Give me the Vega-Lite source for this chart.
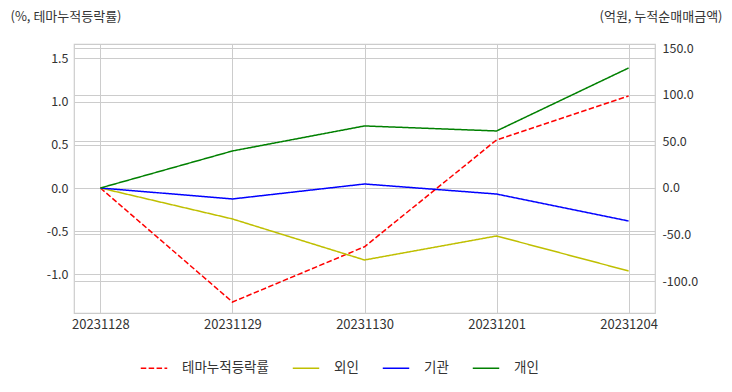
{
  "$schema": "https://vega.github.io/schema/vega-lite/v6.json",
  "width": 581,
  "height": 269,
  "autosize": {"type": "none"},
  "padding": {"left": 74, "top": 44, "right": 77, "bottom": 79},
  "background": "white",
  "config": {
    "font": "Noto Sans CJK KR",
    "view": {"stroke": "#cccccc", "strokeWidth": 1.2},
    "axis": {
      "labelFont": "Noto Sans CJK KR",
      "titleFont": "Noto Sans CJK KR",
      "labelColor": "#333333",
      "titleColor": "#333333",
      "labelFontSize": 12.5,
      "titleFontSize": 13,
      "titleFontWeight": "normal",
      "gridColor": "#cccccc",
      "gridWidth": 1,
      "domain": false,
      "ticks": false
    },
    "legend": {
      "labelFont": "Noto Sans CJK KR",
      "labelFontSize": 13.5,
      "labelColor": "#333333"
    }
  },
  "data": {
    "values": [
      {"date": "20231128", "series": "테마누적등락률", "value": 0},
      {"date": "20231129", "series": "테마누적등락률", "value": -1.32},
      {"date": "20231130", "series": "테마누적등락률", "value": -0.68},
      {"date": "20231201", "series": "테마누적등락률", "value": 0.556},
      {"date": "20231204", "series": "테마누적등락률", "value": 1.065},
      {"date": "20231128", "series": "외인", "value": 0},
      {"date": "20231129", "series": "외인", "value": -33.3},
      {"date": "20231130", "series": "외인", "value": -77.4},
      {"date": "20231201", "series": "외인", "value": -51.6},
      {"date": "20231204", "series": "외인", "value": -89.2},
      {"date": "20231128", "series": "기관", "value": 0},
      {"date": "20231129", "series": "기관", "value": -11.8},
      {"date": "20231130", "series": "기관", "value": 4.3},
      {"date": "20231201", "series": "기관", "value": -6.5},
      {"date": "20231204", "series": "기관", "value": -35.5},
      {"date": "20231128", "series": "개인", "value": 0},
      {"date": "20231129", "series": "개인", "value": 39.8},
      {"date": "20231130", "series": "개인", "value": 66.7},
      {"date": "20231201", "series": "개인", "value": 61.3},
      {"date": "20231204", "series": "개인", "value": 129}
    ]
  },
  "encoding": {
    "x": {
      "field": "date",
      "type": "ordinal",
      "sort": null,
      "scale": {"type": "point", "padding": 0.2},
      "axis": {"title": null, "labelAngle": 0, "labelPadding": 5, "grid": true, "labelFontSize": 13, "labelFlush": false, "labelOverlap": false, "labelBound": false}
    },
    "color": {
      "field": "series",
      "type": "nominal",
      "scale": {
        "domain": ["테마누적등락률", "외인", "기관", "개인"],
        "range": ["#ff0000", "#bfbf00", "#0000ff", "#008000"]
      },
      "legend": {
        "title": null,
        "orient": "none",
        "legendX": 66,
        "legendY": 310,
        "direction": "horizontal",
        "columns": 4,
        "symbolType": "stroke",
        "symbolSize": 700,
        "symbolStrokeWidth": 1.5,
        "labelOffset": 14,
        "columnPadding": 20
      }
    },
    "strokeDash": {
      "field": "series",
      "type": "nominal",
      "scale": {
        "domain": ["테마누적등락률", "외인", "기관", "개인"],
        "range": [[5.5, 2.4], [1, 0], [1, 0], [1, 0]]
      },
      "legend": {
        "title": null,
        "orient": "none",
        "legendX": 66,
        "legendY": 310,
        "direction": "horizontal",
        "columns": 4,
        "symbolType": "stroke",
        "symbolSize": 700,
        "symbolStrokeWidth": 1.5,
        "labelOffset": 14,
        "columnPadding": 20
      }
    }
  },
  "layer": [
    {
      "transform": [{"filter": "datum.series === '테마누적등락률'"}],
      "mark": {"type": "line", "strokeWidth": 1.5},
      "encoding": {
        "y": {
          "field": "value",
          "type": "quantitative",
          "scale": {"domain": [-1.447, 1.667], "nice": false, "zero": false},
          "axis": {
            "values": [-1, -0.5, 0, 0.5, 1, 1.5],
            "labelExpr": "replace(format(datum.value, '.1f'), '\u2212', '-')",
            "labelPadding": 6,
            "title": "(%, 테마누적등락률)",
            "titleAngle": 0,
            "titleX": -64,
            "titleY": -28,
            "titleAlign": "left",
            "titleBaseline": "middle",
            "grid": true
          }
        }
      }
    },
    {
      "transform": [{"filter": "datum.series !== '테마누적등락률'"}],
      "mark": {"type": "line", "strokeWidth": 1.5},
      "encoding": {
        "y": {
          "field": "value",
          "type": "quantitative",
          "scale": {"domain": [-134.4, 154.8], "nice": false, "zero": false},
          "axis": {
            "orient": "right",
            "values": [-100, -50, 0, 50, 100, 150],
            "labelExpr": "replace(format(datum.value, '.1f'), '\u2212', '-')",
            "labelPadding": 7,
            "title": "(억원, 누적순매매금액)",
            "titleAngle": 0,
            "titleX": 67,
            "titleY": -28,
            "titleAlign": "right",
            "titleBaseline": "middle",
            "grid": true
          }
        }
      }
    }
  ],
  "resolve": {"scale": {"y": "independent"}}
}
